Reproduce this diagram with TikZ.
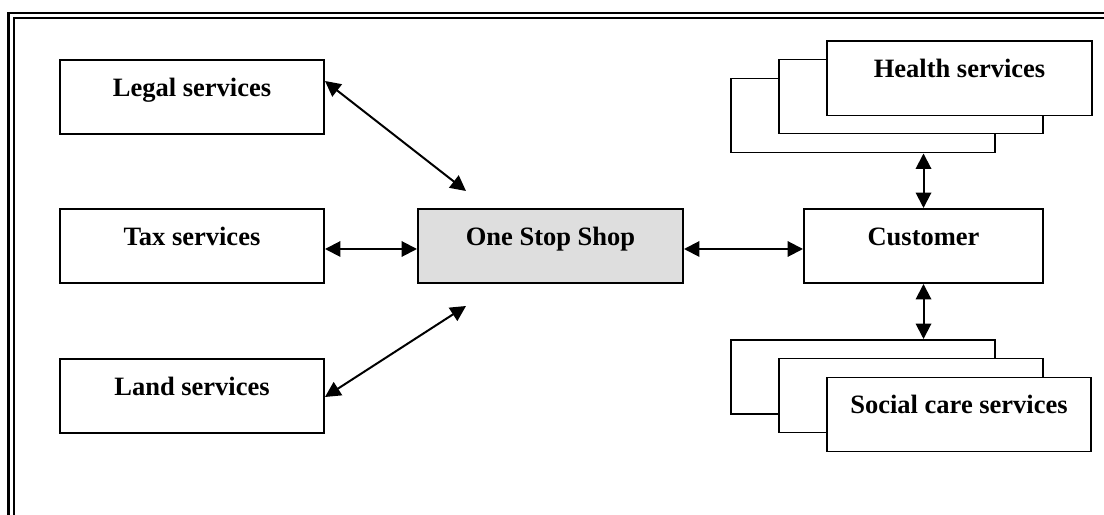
\documentclass[tikz,border=0pt]{standalone}
\usepackage{fontspec}
\setmainfont{Liberation Serif}
\usetikzlibrary{arrows.meta,calc}
\colorlet{shopgray}{black!13}
\def\px{0.4528pt}

\begin{document}
\begin{tikzpicture}[x=\px,y=-\px,
  box/.style={draw,line width=0.9pt,fill=white,inner sep=0pt,minimum width=264*\px,
    text height=36.5*\px,text depth=37.5*\px,font=\bfseries\fontsize{12}{14}\selectfont},
  link/.style={line width=0.9pt,{Triangle[length=7pt,width=7pt]}-{Triangle[length=7pt,width=7pt]}}]
\useasboundingbox (0,0) rectangle (1104,515);
\begin{scope}
\clip (0,0) rectangle (1104,515);
\draw[line width=1.3pt] (8.5,530) |- (1120,13);
\draw[line width=0.9pt] (14,530) |- (1120,18);
\end{scope}

\node[box] (legal) at (192,97) {Legal services};
\node[box] (tax) at (192,246) {Tax services};
\node[box] (land) at (192,396) {Land services};
\node[box,fill=shopgray,minimum width=265*\px] (shop) at (550.5,246) {One Stop Shop};
\node[box,minimum width=239*\px] (customer) at (923.5,246) {Customer};

\node[box] (health3) at (863,115.5) {};
\node[box] (health2) at (911,96.5) {};
\node[box,minimum width=265*\px] (health) at (959.5,78.5) {Health services};

\node[box] (social3) at (863,377) {};
\node[box] (social2) at (911,395.5) {};
\node[box] (social) at (959,414.5) {Social care services};

\coordinate (shopnw) at ($(shop.north west)+(49,-17)$);
\coordinate (shopsw) at ($(shop.south west)+(49,22)$);
\draw[link] ([yshift=16*\px]legal.east) -- (shopnw);
\draw[link] ([yshift=-3*\px]tax.east) -- ([yshift=-3*\px]shop.west);
\draw[link] ([yshift=-1*\px]land.east) -- (shopsw);
\draw[link] ([yshift=-3*\px]shop.east) -- ([yshift=-3*\px]customer.west);
\draw[link] (customer.north) -- (customer.north |- health3.south);
\draw[link] (customer.south) -- (customer.south |- social3.north);
\end{tikzpicture}
\end{document}
